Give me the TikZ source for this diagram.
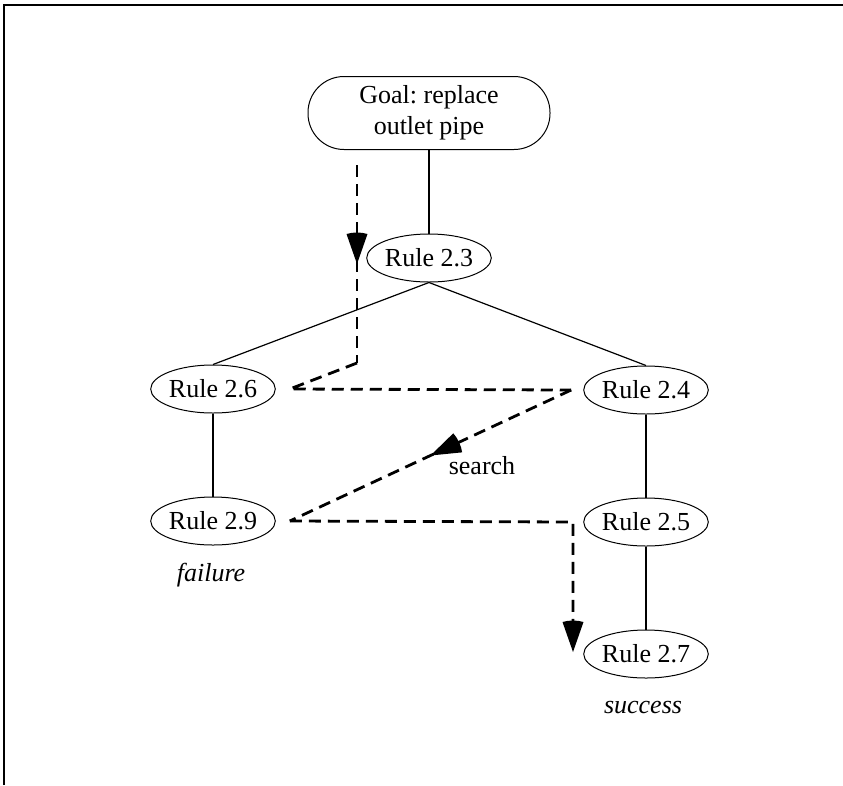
\documentclass[tikz,border=0pt]{standalone}
\usepackage{fontspec}
\setmainfont{Liberation Serif}
\usetikzlibrary{shapes.geometric,decorations.markings}

\tikzset{
  rulenode/.style={draw, ellipse, line width=1pt, minimum width=121pt,
    minimum height=48pt, inner sep=0pt, font=\fontsize{26}{31}\selectfont},
  goalnode/.style={draw, rectangle, rounded corners=36pt, line width=1pt,
    minimum width=242pt, minimum height=73pt, align=center,
    font=\fontsize{26}{31}\selectfont},
  tree/.style={line width=1.2pt},
  searchline/.style={line width=2.8pt, dash pattern=on 12pt off 7pt},
  % filled wedge head, tip at the origin, pointing along +x
  headshape/.style={},
  midarrow/.style={postaction={decorate}, decoration={markings,
    mark=at position #1 with {\fill[solid] (0pt,0pt) -- (-30pt,10.5pt)
      .. controls (-32pt,4pt) and (-32pt,-4pt) .. (-30pt,-10.5pt) -- cycle;}}},
  note/.style={font=\fontsize{26}{31}\selectfont},
  slanted/.style={font=\fontsize{26}{31}\selectfont\itshape},
  frameline/.style={line width=2pt}
}

\begin{document}
\frenchspacing
\begin{tikzpicture}[x=1pt, y=-1pt]
  \useasboundingbox (0,0) rectangle (843,785);

  % open frame: top and left edges
  \draw[frameline] (4,785) -- (4,5) -- (843,5);

  % rule tree
  \node[goalnode] (goal) at (429,113) {Goal: replace\\outlet pipe};
  \node[rulenode] (r23) at (429,258) {Rule 2.3};
  \node[rulenode] (r26) at (213,389) {Rule 2.6};
  \node[rulenode] (r24) at (646,390) {Rule 2.4};
  \node[rulenode] (r29) at (213,521) {Rule 2.9};
  \node[rulenode] (r25) at (646,522) {Rule 2.5};
  \node[rulenode] (r27) at (646,654) {Rule 2.7};

  \node[slanted] (fail) at (211,575) {failure};
  \node[slanted] (succ) at (643,708) {success};
  \node[note] (search) at (482,466) {search};

  \draw[tree] (goal.south) -- (r23.north);
  \draw[tree] (r23.south) -- (r26.north);
  \draw[tree] (r23.south) -- (r24.north);
  \draw[tree] (r26.south) -- (r29.north);
  \draw[tree] (r24.south) -- (r25.north);
  \draw[tree] (r25.south) -- (r27.north);

  % depth-first search route
  \coordinate (s0) at (357,165);
  \coordinate (s1) at (357,363);
  \coordinate (s2) at ([xshift=14pt]r26.east);
  \coordinate (s3) at ([xshift=-12pt]r24.west);
  \coordinate (s4) at ([xshift=14pt]r29.east);
  \coordinate (s5) at (573,522);
  \coordinate (s6) at (573,652);

  \draw[searchline, midarrow=0.5] (s0) -- (s1);
  \draw[searchline] (s1) -- (s2) -- (s3);
  \draw[searchline, midarrow=0.5] (s3) -- (s4);
  \draw[searchline] (s4) -- (s5) -- ([yshift=28pt]s6);
  \path[midarrow=1] (s5) -- (s6);
\end{tikzpicture}
\end{document}
